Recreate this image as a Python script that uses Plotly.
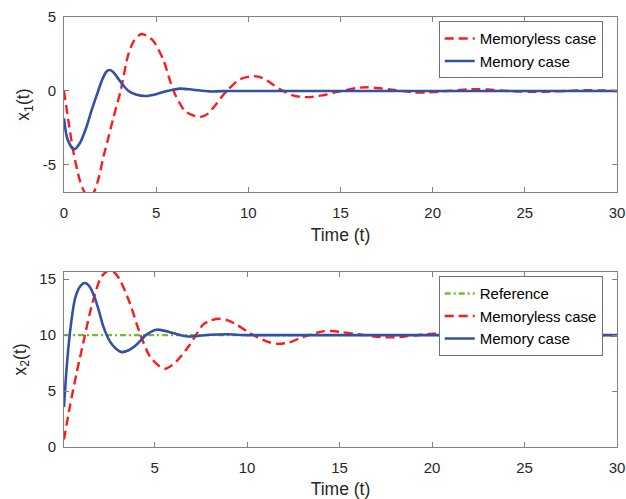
import plotly.graph_objects as go

# ---------------- data ----------------
# Top panel: x1(t)
t1_memory = [0, 0.2, 0.54, 0.85, 1.2, 1.5, 1.8, 2.1, 2.3, 2.46, 2.65, 2.9, 3.2, 3.5, 3.9, 4.43,
             5.0, 5.6, 6.3, 7.0, 7.9, 9.0, 10, 12, 15, 20, 25, 30]
x1_memory = [-1.85, -3.3, -3.95, -3.55, -2.5, -1.3, -0.2, 0.85, 1.3, 1.42, 1.3, 0.9, 0.4, 0.0,
             -0.24, -0.34, -0.22, 0.0, 0.16, 0.08, -0.03, 0.0, 0.0, 0.0, 0.0, 0.0, 0.0, 0.0]

t1_memoryless = [0, 0.25, 0.5, 0.87, 1.14, 1.37, 1.6, 1.9, 2.13, 2.4, 2.68, 3.07, 3.49, 3.8,
                 4.2, 4.5, 4.85, 5.39, 5.75, 6.02, 6.56, 7.0, 7.38, 7.8, 8.1, 8.83, 9.55,
                 10.3, 10.8, 11.7, 12.4, 13.2, 14.0, 14.7, 15.9, 16.4, 16.8, 17.9, 19.0,
                 19.6, 20.3, 21.9, 22.5, 23.0, 24.0, 25.3, 26.1, 27.3, 28.4, 29.3, 30]
x1_memoryless = [0, -2.1, -4.05, -6.1, -6.9, -7.15, -6.9, -5.8, -4.5, -3.2, -1.8, 0.0, 2.48, 3.4,
                 3.85, 3.72, 3.38, 2.1, 0.7, -0.22, -1.35, -1.65, -1.76, -1.55, -1.13, 0.0, 0.79,
                 1.0, 0.86, 0.13, -0.3, -0.42, -0.3, -0.1, 0.2, 0.25, 0.22, 0.07, -0.1,
                 -0.11, -0.05, 0.1, 0.12, 0.1, 0.0, -0.06, -0.05, 0.0, 0.05, 0.03, 0.0]

# Bottom panel: x2(t)
t2_reference = [0.1, 30]
x2_reference = [10, 10]

t2_memory = [0.1, 0.25, 0.42, 0.69, 0.95, 1.23, 1.5, 1.77, 2.0, 2.22, 2.58, 2.9, 3.21, 3.6,
             4.02, 4.56, 5.1, 5.5, 6.0, 6.8, 7.98, 8.9, 10, 12, 15, 20, 25, 30]
x2_memory = [3.57, 7.2, 10.2, 13.2, 14.3, 14.65, 14.3, 13.3, 12.1, 10.8, 9.44, 8.8, 8.48, 8.65,
             9.14, 10.04, 10.48, 10.4, 10.18, 9.88, 10.03, 10.07, 10.0, 10.0, 10.0, 10.0, 10.0, 10.0]

t2_memoryless = [0.1, 0.42, 0.78, 1.14, 1.59, 2.04, 2.3, 2.58, 2.85, 3.12, 3.66, 4.2, 4.74, 5.28,
                 5.6, 6.18, 6.9, 7.62, 8.0, 8.52, 9.0, 9.43, 10.15, 11.05, 11.6, 12.3, 13.0, 14.1,
                 14.6, 15.1, 16.1, 17.2, 17.7, 18.25, 19.5, 20.1, 20.8, 22.3, 23.8, 25.3, 26.8,
                 28.3, 29.8, 30]
x2_memoryless = [0.66, 3.63, 6.6, 9.3, 12.56, 14.95, 15.55, 15.8, 15.55, 14.95, 12.86, 10.18, 8.1, 7.2,
                 7.0, 7.65, 9.14, 10.93, 11.3, 11.46, 11.3, 10.93, 10.18, 9.44, 9.22, 9.35, 9.82, 10.33,
                 10.36, 10.27, 10.06, 9.82, 9.8, 9.82, 10.06, 10.12, 10.14, 10.02, 9.93, 9.97, 10.05,
                 10.01, 9.97, 9.98]

x_ticks = [0, 5, 10, 15, 20, 25, 30]
y1_ticks = [-5, 0, 5]
y1_ticktext = ["-5", "0", "5"]
y2_ticks = [0, 5, 10, 15]

# ---------------- style ----------------
FONT = "Liberation Sans, Arial, Helvetica, sans-serif"
TXT = "#262626"
AX = "#808080"
RED = "#FF1A1A"
BLUE = "#3350A8"
GREEN = "#6DBE2E"
LBL = 17.5

fig = go.Figure()

fig.add_trace(go.Scatter(x=t1_memoryless, y=x1_memoryless, mode="lines", name="Memoryless case",
                         line=dict(color=RED, width=2.4, dash="9px,5px", shape="spline", smoothing=0.8),
                         xaxis="x", yaxis="y", legend="legend"))
fig.add_trace(go.Scatter(x=t1_memory, y=x1_memory, mode="lines", name="Memory case",
                         line=dict(color=BLUE, width=2.6, shape="spline", smoothing=0.8),
                         xaxis="x", yaxis="y", legend="legend"))

fig.add_trace(go.Scatter(x=t2_reference, y=x2_reference, mode="lines", name="Reference",
                         line=dict(color=GREEN, width=2.4, dash="6px,3px,2px,3px"),
                         xaxis="x2", yaxis="y2", legend="legend2"))
fig.add_trace(go.Scatter(x=t2_memoryless, y=x2_memoryless, mode="lines", name="Memoryless case",
                         line=dict(color=RED, width=2.4, dash="9px,5px", shape="spline", smoothing=0.8),
                         xaxis="x2", yaxis="y2", legend="legend2"))
fig.add_trace(go.Scatter(x=t2_memory, y=x2_memory, mode="lines", name="Memory case",
                         line=dict(color=BLUE, width=2.6, shape="spline", smoothing=0.8),
                         xaxis="x2", yaxis="y2", legend="legend2"))

axis_common = dict(showline=True, linecolor=AX, linewidth=1, mirror="ticks",
                   ticks="inside", ticklen=5, tickcolor=AX, tickwidth=1,
                   showgrid=False, zeroline=False, automargin=False,
                   tickfont=dict(family=FONT, size=15, color=TXT))

fig.update_layout(
    width=626, height=499,
    margin=dict(l=64, r=9, t=17, b=52),
    paper_bgcolor="white", plot_bgcolor="white",
    font=dict(family=FONT, color=TXT),
    xaxis=dict(domain=[0, 1], anchor="y", range=[0, 30], tickvals=x_ticks,
               title=dict(text="Time (t)", font=dict(family=FONT, size=LBL, color=TXT), standoff=8),
               ticklabelstandoff=7, **axis_common),
    yaxis=dict(domain=[0.5927, 1], anchor="x", range=[-6.84, 5], tickvals=y1_ticks,
               ticktext=y1_ticktext,
               title=dict(text="x<sub>1</sub>(t)", font=dict(family=FONT, size=LBL, color=TXT), standoff=8),
               ticklabelstandoff=4, **axis_common),
    xaxis2=dict(domain=[0, 1], anchor="y2", range=[0.1, 30], tickvals=x_ticks,
                title=dict(text="Time (t)", font=dict(family=FONT, size=LBL, color=TXT), standoff=8),
                ticklabelstandoff=7, **axis_common),
    yaxis2=dict(domain=[0, 0.4073], anchor="x2", range=[0, 15.65], tickvals=y2_ticks,
                title=dict(text="x<sub>2</sub>(t)", font=dict(family=FONT, size=LBL, color=TXT), standoff=8),
                ticklabelstandoff=4, **axis_common),
    legend=dict(x=0.6776, y=0.99, xanchor="left", yanchor="top",
                bgcolor="white", bordercolor="#707070", borderwidth=1,
                font=dict(family=FONT, size=15, color="black"), tracegroupgap=0),
    legend2=dict(x=0.6776, y=0.397, xanchor="left", yanchor="top",
                 bgcolor="white", bordercolor="#707070", borderwidth=1,
                 font=dict(family=FONT, size=15, color="black"), tracegroupgap=0),
    showlegend=True,
)

fig.write_html("out.html", config={"displayModeBar": False},
               post_script="document.body.style.margin='0px';")
